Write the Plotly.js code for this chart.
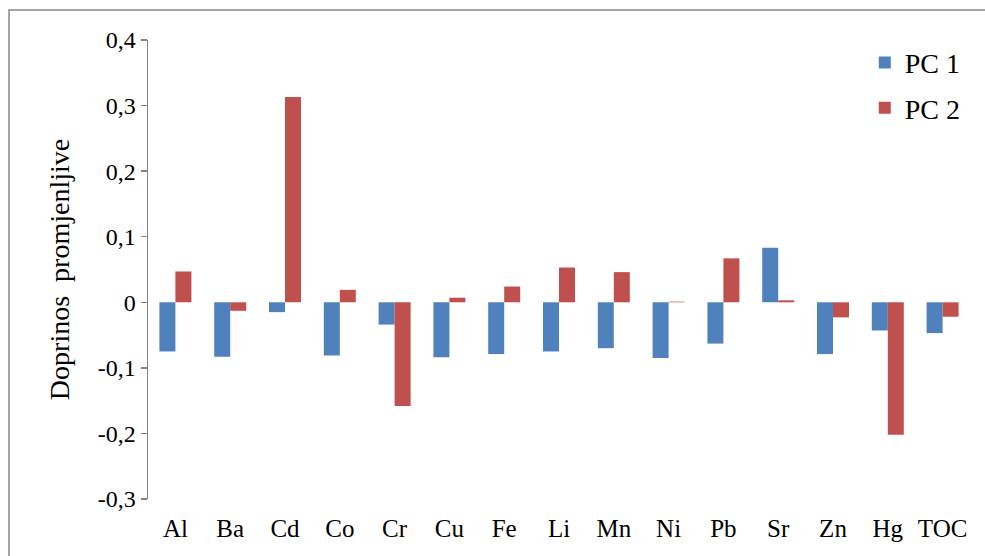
<!DOCTYPE html>
<html>
<head>
<meta charset="utf-8">
<script src="https://cdn.plot.ly/plotly-3.0.1.min.js"></script>
<style>html,body{margin:0;padding:0;background:#fff;}#chart{width:985px;height:556px;}</style>
</head>
<body>
<div id="chart"></div>
<script>
const categories = ['Al','Ba','Cd','Co','Cr','Cu','Fe','Li','Mn','Ni','Pb','Sr','Zn','Hg','TOC'];
const pc1 = [-0.075,-0.083,-0.015,-0.081,-0.034,-0.084,-0.079,-0.075,-0.070,-0.085,-0.063,0.083,-0.079,-0.043,-0.047];
const pc2 = [0.047,-0.013,0.313,0.019,-0.158,0.007,0.024,0.053,0.046,0.001,0.067,0.003,-0.023,-0.202,-0.022];
const seriesNames = ['PC 1','PC 2'];
const yTickVals = [-0.3,-0.2,-0.1,0,0.1,0.2,0.3,0.4];
const yTickText = ['-0,3','-0,2','-0,1','0','0,1','0,2','0,3','0,4'];
const yTitle = 'Doprinos  promjenljive';

const font = "'Liberation Serif', 'Times New Roman', serif";
const axisGray = '#868686';
const W = 985, H = 556;
const L = 148, R = 15, T = 40, B = 57;
const pw = W - L - R, ph = H - T - B;
const boundaries = categories.map((c,i)=>i-0.5).concat([categories.length-0.5]);

const traces = [
  {type:'bar', name:seriesNames[0], x:categories, y:pc1, marker:{color:'#4F81BD'}, legendgroup:'a'},
  {type:'bar', name:seriesNames[1], x:categories, y:pc2, marker:{color:'#C0504D'}, legendgroup:'b'}
];

const layout = {
  width: W, height: H,
  margin: {l:L, r:R, t:T, b:B, pad:0},
  paper_bgcolor:'#fff', plot_bgcolor:'#fff',
  barmode:'group', bargap:0.416, bargroupgap:0,
  font:{family:font, color:'#000', size:22},
  showlegend:true,
  legend:{x:0.872, y:1.005, xanchor:'left', yanchor:'top', font:{family:font, size:28, color:'#000'},
          traceorder:'grouped', tracegroupgap:6, bgcolor:'rgba(0,0,0,0)', itemwidth:30},
  xaxis:{type:'category', categoryorder:'array', categoryarray:categories, range:[-0.5, categories.length-0.5],
         showline:false, ticks:'', showgrid:false, zeroline:false,
         tickfont:{family:font, size:25, color:'#000'}, ticklabelstandoff:12},
  xaxis2:{overlaying:'x', anchor:'free', position:0.3/0.7, type:'linear', range:[-0.5, categories.length-0.5],
          tickmode:'array', tickvals:boundaries, showticklabels:false, ticks:'outside', ticklen:6,
          tickcolor:axisGray, tickwidth:2, showline:true, linecolor:axisGray, linewidth:2,
          showgrid:false, zeroline:false, fixedrange:true},
  yaxis:{range:[-0.3,0.4], tickmode:'array', tickvals:yTickVals, ticktext:yTickText,
         ticks:'outside', ticklen:6, tickcolor:axisGray, tickwidth:1.5, showline:true, linecolor:axisGray, linewidth:1.5,
         showgrid:false, zeroline:false, tickfont:{family:font, size:24, color:'#000'},
         title:{text:yTitle, font:{family:font, size:28, color:'#000'}, standoff:20}},
  shapes:[{type:'rect', xref:'paper', yref:'paper', x0:(9-L)/pw, x1:1.2, y0:-0.3, y1:(ph+T-10)/ph,
           line:{color:axisGray, width:1.5}, fillcolor:'rgba(0,0,0,0)', layer:'below'}]
};

Plotly.newPlot('chart', traces, layout, {staticPlot:true, displayModeBar:false});
</script>
</body>
</html>
